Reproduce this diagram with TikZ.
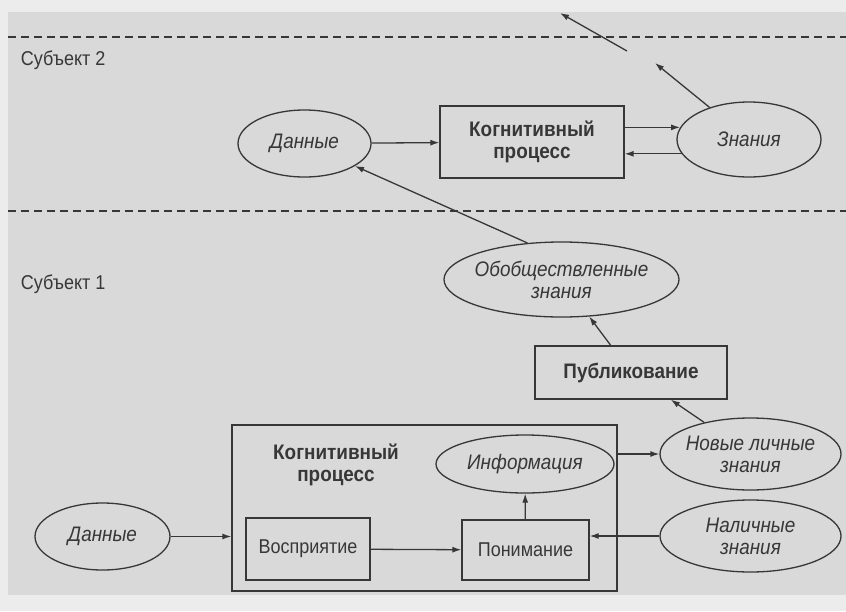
\documentclass[tikz,border=0pt]{standalone}
\usepackage{fontspec}
\setmainfont{Liberation Sans}[FakeStretch=0.9]
\usetikzlibrary{shapes.geometric,arrows.meta}
\definecolor{pagebg}{RGB}{217,217,217}
\definecolor{marginbg}{RGB}{236,236,236}
\definecolor{ink}{RGB}{55,55,55}

\begin{document}
\begin{tikzpicture}[x=1pt, y=-1pt, color=ink, line width=1.3pt,
    font=\fontsize{20}{22}\selectfont,
    arr/.style={-{Latex[length=9pt,width=6pt]}},
    sep/.style={dash pattern=on 8pt off 5pt},
    proc/.style={draw, rectangle, inner sep=0pt, align=center, font=\fontsize{21}{22}\selectfont\bfseries},
    box/.style={draw, rectangle, inner sep=0pt},
    oval/.style={draw, ellipse, inner sep=0pt, align=center, font=\fontsize{21}{22}\selectfont\itshape}]
    \useasboundingbox (0,0) rectangle (846,611);
    % page
    \fill[marginbg] (0,0) rectangle (846,611);
    \fill[pagebg] (8,12) rectangle (846,595);
    \draw[sep] (8,37) -- (846,37);
    \draw[sep] (8,211) -- (846,211);
    \node[anchor=west] (subj2) at (17,60) {Субъект 2};
    \node[anchor=west] (subj1) at (17,284) {Субъект 1};
    % subject 2
    \node[oval, minimum width=133pt, minimum height=67pt] (data2) at (304.5,143.5) {Данные};
    \node[proc, minimum width=184pt, minimum height=72pt] (kog2) at (532,142) {Когнитивный\\процесс};
    \node[oval, minimum width=144pt, minimum height=75pt] (zn2) at (749,139.5) {Знания};
    \coordinate (up2) at (655,63);
    \coordinate (out1) at (627,51);
    \coordinate (out2) at (560,13);
    % subject 1
    \node[oval, inner xsep=-10pt, minimum width=235pt, minimum height=75pt] (obob) at (561.5,279.5) {Обобществленные\\знания};
    \node[proc, minimum width=192pt, minimum height=53pt] (publ) at (631,372.5) {Публикование};
    \node[box, minimum width=385pt, minimum height=166pt] (big) at (424.5,508) {};
    \node[align=center, font=\fontsize{21}{22}\selectfont\bfseries] (kog1) at (336,465) {Когнитивный\\процесс};
    \node[box, minimum width=124pt, minimum height=62pt] (vospr) at (308,549) {Восприятие};
    \node[box, minimum width=127pt, minimum height=60pt] (ponim) at (525.5,550) {Понимание};
    \node[oval, minimum width=178pt, minimum height=58pt] (info) at (525,464) {Информация};
    \node[oval, inner xsep=-6pt, minimum width=181pt, minimum height=72pt] (newk) at (750.5,454) {Новые личные\\знания};
    \node[oval, minimum width=181pt, minimum height=72pt] (nal) at (750.5,536) {Наличные\\знания};
    \node[oval, minimum width=135pt, minimum height=67pt] (data1) at (102.5,536.5) {Данные};
    % arrows, subject 2
    \draw[arr] (data2) -- (kog2);
    \draw[arr] (kog2.east |- zn2.170) -- (zn2.170);
    \draw[arr] (zn2.192) -- (kog2.east |- zn2.192);
    \draw[arr] (zn2) -- (up2);
    \draw[arr] (out1) -- (out2);
    % arrows, subject 1
    \draw[arr] (obob.133) -- (data2);
    \draw[arr] (publ) -- (obob);
    \draw[arr] (newk) -- (publ);
    \draw[arr] (data1.east) -- (data1.east -| big.west);
    \draw[arr] (vospr) -- (ponim);
    \draw[arr] (ponim) -- (info);
    \draw[arr] (big.east |- newk) -- (newk);
    \draw[arr] (nal) -- (nal -| ponim.east);
\end{tikzpicture}
\end{document}
